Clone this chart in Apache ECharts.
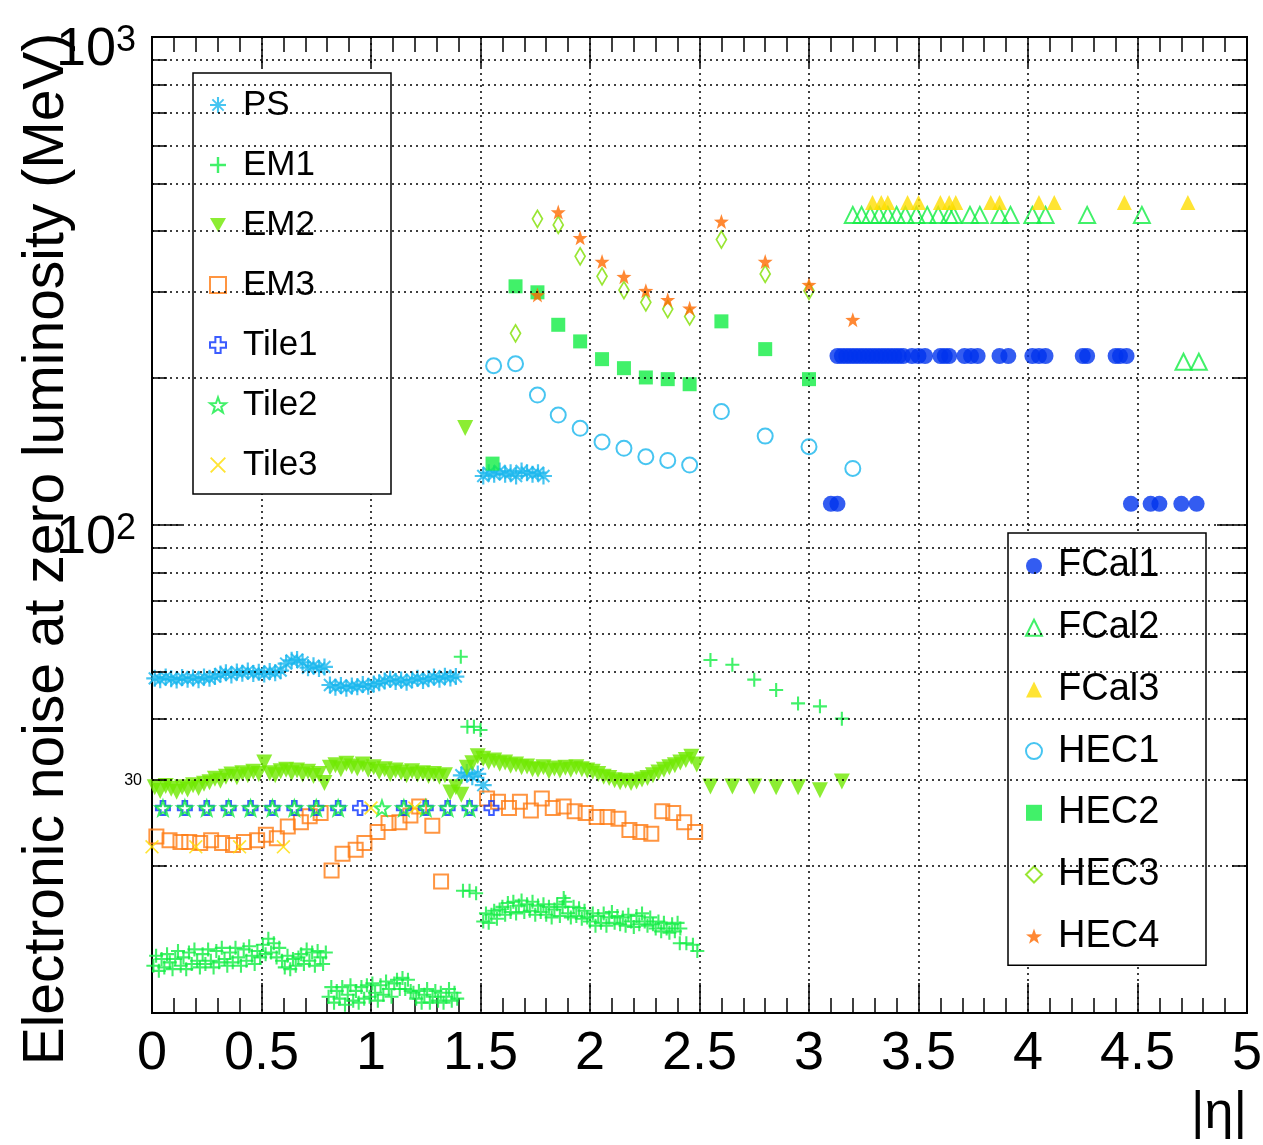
<!DOCTYPE html>
<html><head><meta charset="utf-8">
<script src="https://cdn.jsdelivr.net/npm/echarts@6/dist/echarts.min.js"></script>
<style>html,body{margin:0;padding:0;background:#fff}#c{width:1263px;height:1145px}</style>
</head><body><div id="c"></div>
<script>
// ---------------- DATA ----------------
const SERIES_NAMES = ['PS','EM1','EM2','EM3','Tile1','Tile2','Tile3','FCal1','FCal2','FCal3','HEC1','HEC2','HEC3','HEC4'];
const X_TICK_LABELS = ['0','0.5','1','1.5','2','2.5','3','3.5','4','4.5','5'];
const Y_MINOR_TICKS = [20,30,40,50,60,70,80,90,200,300,400,500,600,700,800,900];
const Y_MAJOR_TICKS = [100];

// PS
const psBarrelStart = 0.0125, psStep = 0.025;
const psBarrel = [48.5,48.2,48.8,48.4,48.1,48.7,48.3,48.6,48.2,48.8,48.5,48.9,
  49.5,49.8,49.3,50.0,49.7,50.2,49.6,49.9,49.5,50.1,49.8,50.3,
  52.0,52.8,53.0,52.3,51.0,51.5,50.8,51.2,
  47.0,46.5,46.9,46.3,46.8,46.6,47.1,46.7,47.2,47.5,
  47.9,48.3,47.8,48.1,47.6,48.2,48.5,48.0,48.4,48.8,48.3,49.0,48.6,48.9];
const psTransEta = [1.4125,1.4375,1.4625,1.4875,1.5125];
const psTransVal = [30.7,31.1,30.5,30.9,29.3];
const psEndcapStart = 1.5125;
const psEndcap = [126,128,127,129,127,128,126,129,128,127,128,126];

// EM1
const em1Step = 0.0125;
const em1BarrelAStart = 0.00625;
const em1BarrelA = [12.5,13.1,12.2,12.9,12.4,13.2,12.7,12.3,
  12.9,13.4,12.5,13.0,12.3,13.3,12.6,13.5,12.8,12.4,
  13.2,12.6,13.5,12.8,12.4,13.4,12.7,13.6,12.9,12.5,
  13.3,12.7,13.6,13.0,12.5,13.5,12.8,13.7,13.1,12.6,13.4,
  13.0,13.8,13.2,14.2,13.3,13.9,13.0,13.6,
  12.8,12.4,13.1,12.3,12.9,12.5,13.0,
  13.2,12.6,13.5,12.8,13.3,12.5,13.4,13.0,12.6,13.3];
const em1BarrelBStart = 0.80625;
const em1BarrelB = [10.8,11.3,10.5,11.1,10.7,11.3,10.4,10.9,11.4,10.6,11.1,10.5,
  11.3,10.7,11.4,10.8,11.5,11.0,10.6,11.4,10.9,11.6,11.2,10.8,11.5,11.7,11.2,
  11.8,11.2,11.7,11.1,11.0,
  10.7,11.1,10.5,10.9,11.2,10.5,10.8,11.1,10.6,11.0,10.5,10.8,11.2,10.6,11.0,10.7];
const em1EndcapStart = 1.5125;
const em1Endcap = [15.4,16.0,15.3,15.9,16.2,15.6,16.3,
  16.5,15.9,16.8,16.1,16.9,16.0,16.6,17.0,16.1,16.7,16.2,16.9,15.9,16.6,16.1,
  16.7,15.9,16.5,15.7,16.3,16.7,15.8,16.5,16.9,16.0,15.7,16.5,15.8,16.4,15.6,16.2,15.7,
  15.4,16.0,15.1,15.8,15.3,16.0,15.1,15.7,16.1,15.3,15.8,15.2,
  15.7,15.1,15.9,15.4,15.0,15.8,15.2,16.0,15.4,15.1,15.7,15.2,
  14.9,15.4,14.7,15.3,14.9,14.6,15.2,14.7,15.3,14.9];
const em1ExtraEta = [1.41,1.42,1.45,1.48,1.44,1.47,1.50,1.88,2.41,2.44,2.47,2.49,2.55,2.65,2.75,2.85,2.95,3.05,3.15];
const em1ExtraVal = [53.7,17.8,17.8,17.6,38.6,38.6,38.0,17.2,13.9,13.9,13.8,13.4,52.9,51.7,48.2,45.9,43.1,42.5,40.1];

// EM2
const em2Step = 0.025;
const em2BarrelStart = 0.0125;
const em2Barrel = [29.0,28.5,29.2,28.8,28.4,29.0,28.7,29.3,28.9,29.5,
  29.7,30.2,29.9,30.5,30.8,30.4,31.0,30.7,31.2,30.9,
  32.6,
  31.0,30.7,31.3,31.5,31.0,31.4,30.8,31.2,30.6,30.9,
  29.6,
  31.8,32.2,31.6,32.4,32.0,31.7,32.3,31.5,31.9,
  31.2,31.6,30.9,31.4,31.1,30.7,31.3,30.8,31.0,30.6,30.9,
  30.5,30.7,28.3,29.0];
const em2EndcapStart = 1.4125;
const em2Endcap = [28.0,31.8,32.5,33.6,33.2,
  32.7,32.9,32.4,32.6,32.1,32.3,31.9,32.0,31.6,
  31.5,31.9,31.3,31.7,31.4,31.8,31.5,31.9,31.6,31.4,
  31.2,30.9,30.5,30.3,
  30.0,29.7,29.9,29.6,29.8,30.1,30.3,
  30.7,31.1,31.5,31.9,32.2,32.6,33.0,33.5,32.3];
const em2ExtraEta = [1.43,2.55,2.65,2.75,2.85,2.95,3.05,3.15];
const em2ExtraVal = [158,29.1,29.1,29.1,29.0,29.0,28.6,29.8];

// EM3
const em3Eta = [0.02,0.08,0.13,0.17,0.22,0.27,0.32,0.37,0.42,0.48,0.52,0.57,0.62,0.68,0.72,0.77,
  0.82,0.87,0.93,0.97,1.03,1.08,1.13,1.18,1.22,1.28,1.32,
  1.53,1.58,1.63,1.68,1.73,1.78,1.83,1.88,1.93,1.98,2.03,2.08,2.13,2.18,2.23,2.28,2.33,2.38,2.43,2.48];
const em3Val = [23.0,22.6,22.4,22.4,22.3,22.6,22.3,22.1,22.4,22.6,23.2,22.8,24.1,24.6,25.3,25.7,
  19.6,21.2,21.6,22.3,23.5,24.5,24.6,25.4,26.5,24.2,18.6,
  27.5,27.1,26.3,27.1,26.0,27.5,26.3,26.5,25.9,25.7,25.2,25.2,25.0,23.7,23.5,23.3,25.9,25.7,24.6,23.5];

// Tile
const tile1Eta = [0.05,0.15,0.25,0.35,0.45,0.55,0.65,0.75,0.85,0.95,1.15,1.25,1.35,1.45,1.55];
const tile1Val = [26.3,26.3,26.3,26.3,26.3,26.3,26.3,26.3,26.3,26.3,26.3,26.3,26.3,26.3,26.3];
const tile2Eta = [0.05,0.15,0.25,0.35,0.45,0.55,0.65,0.75,0.85,1.05,1.15,1.25,1.35,1.45];
const tile2Val = [26.3,26.3,26.3,26.3,26.3,26.3,26.3,26.3,26.3,26.3,26.3,26.3,26.3,26.3];
const tile3Eta = [0.0,0.2,0.4,0.6,1.0,1.2];
const tile3Val = [21.9,21.9,21.9,21.9,26.3,26.3];

// FCal
const fcal1Eta = [3.13,3.15,3.17,3.19,3.21,3.23,3.25,3.27,3.29,3.31,3.33,3.35,3.37,3.39,3.41,3.43,3.47,3.50,3.53,
  3.60,3.62,3.64,3.71,3.74,3.77,3.87,3.91,4.02,4.05,4.08,4.25,4.27,4.40,4.42,4.45,
  3.10,3.13,4.47,4.56,4.60,4.70,4.77];
const fcal1Val = [222,222,222,222,222,222,222,222,222,222,222,222,222,222,222,222,222,222,222,
  222,222,222,222,222,222,222,222,222,222,222,222,222,222,222,222,
  110.5,110.5,110.5,110.5,110.5,110.5,110.5];
const fcal2Eta = [3.20,3.24,3.28,3.32,3.36,3.40,3.44,3.49,3.54,3.59,3.64,3.66,3.735,3.78,3.87,3.92,4.02,4.08,4.27,4.52,4.71,4.78];
const fcal2Val = [432,432,432,432,432,432,432,432,432,432,432,432,432,432,432,432,432,432,432,432,216,216];
const fcal3Eta = [3.29,3.33,3.36,3.45,3.50,3.60,3.64,3.67,3.83,3.87,4.05,4.12,4.44,4.73];
const fcal3Val = [458,458,458,458,458,458,458,458,458,458,458,458,458,458];

// HEC
const hec1Eta = [1.56,1.66,1.76,1.855,1.955,2.055,2.155,2.255,2.355,2.455,2.6,2.8,3.0,3.2];
const hec1Val = [212,214,184.6,168,157.8,148,143.6,138,135.6,132.7,170.8,152.1,144.7,130.6];
const hec2Eta = [1.555,1.66,1.76,1.855,1.955,2.055,2.155,2.255,2.355,2.455,2.6,2.8,3.0];
const hec2Val = [133.6,308.4,299.8,257.2,237.8,218.7,209.6,200.6,199,194.3,261.4,229.3,199];
const hec3Eta = [1.66,1.76,1.855,1.955,2.055,2.155,2.255,2.355,2.455,2.6,2.8,3.0];
const hec3Val = [247,424,412,355.3,323.3,303,285.9,277,267.6,384.5,327,302];
const hec4Eta = [1.76,1.855,1.955,2.055,2.155,2.255,2.355,2.455,2.6,2.8,3.0,3.2];
const hec4Val = [296,437.7,387.6,346.6,322.7,302,289.4,278,418.7,346.6,310.8,263.4];

// ---------------- HELPERS ----------------
function reg(start, step, vals) { return vals.map((v, i) => [+(start + i * step).toFixed(5), v]); }
function pairs(etas, vals) { return etas.map((e, i) => [e, vals[i]]); }

const FONT = '"Liberation Sans", Arial, Helvetica, sans-serif';
const P_PLUS = 'path://M-10,-1.5 L10,-1.5 L10,1.5 L-10,1.5 Z M-1.5,-10 L1.5,-10 L1.5,10 L-1.5,10 Z';
const P_AST = 'path://M-10,-1.3 L10,-1.3 L10,1.3 L-10,1.3 Z M-1.3,-10 L1.3,-10 L1.3,10 L-1.3,10 Z M-6.15,-7.85 L7.85,6.15 L6.15,7.85 L-7.85,-6.15 Z M-7.85,6.15 L6.15,-7.85 L7.85,-6.15 L-6.15,7.85 Z';
const P_X = 'path://M-6.8,-8.2 L8.2,6.8 L6.8,8.2 L-8.2,-6.8 Z M-8.2,6.8 L6.8,-8.2 L8.2,-6.8 L-6.8,8.2 Z';
const P_OCROSS = 'path://M-3.3,-10 L3.3,-10 L3.3,-3.3 L10,-3.3 L10,3.3 L3.3,3.3 L3.3,10 L-3.3,10 L-3.3,3.3 L-10,3.3 L-10,-3.3 L-3.3,-3.3 Z';
const P_STAR = 'path://M0,-10 L2.351,-3.236 L9.511,-3.09 L3.804,1.236 L5.878,8.09 L0,4 L-5.878,8.09 L-3.804,1.236 L-9.511,-3.09 L-2.351,-3.236 Z';
const P_DTRI = 'path://M-10,-8.66 L10,-8.66 L0,8.66 Z';

function sc(name, data, symbol, size, color, open, bw) {
  return {
    id: name, name, type: 'scatter', data, symbol, symbolSize: size, z: 3,
    itemStyle: open ? { color: 'rgba(0,0,0,0)', borderColor: color, borderWidth: bw || 2 }
                    : { color: color, borderWidth: 0 },
    emphasis: { disabled: true }, animation: false
  };
}

const series = [
  sc('PS', [].concat(reg(psBarrelStart, psStep, psBarrel), pairs(psTransEta, psTransVal), reg(psEndcapStart, psStep, psEndcap)), P_AST, 17, '#19b6ee'),
  sc('EM1', [].concat(reg(em1BarrelAStart, em1Step, em1BarrelA), reg(em1BarrelBStart, em1Step, em1BarrelB), reg(em1EndcapStart, em1Step, em1Endcap), pairs(em1ExtraEta, em1ExtraVal)), P_PLUS, 14, '#11ee44'),
  sc('EM2', [].concat(reg(em2BarrelStart, em2Step, em2Barrel), reg(em2EndcapStart, em2Step, em2Endcap), pairs(em2ExtraEta, em2ExtraVal)), P_DTRI, 16, '#6fe800'),
  sc('EM3', pairs(em3Eta, em3Val), 'rect', 14, '#ff7a12', true, 2),
  sc('Tile1', pairs(tile1Eta, tile1Val), P_OCROSS, 14, '#0a33ff', true, 2),
  sc('Tile2', pairs(tile2Eta, tile2Val), P_STAR, 15, '#11ee44', true, 2),
  sc('Tile3', pairs(tile3Eta, tile3Val), P_X, 14, '#ffdd00'),
  sc('FCal1', pairs(fcal1Eta, fcal1Val), 'circle', 16, '#0033ee'),
  sc('FCal2', pairs(fcal2Eta, fcal2Val), 'triangle', 16, '#11ee44', true, 2),
  sc('FCal3', pairs(fcal3Eta, fcal3Val), 'triangle', 15, '#ffdd00'),
  sc('HEC1', pairs(hec1Eta, hec1Val), 'circle', 15, '#19b6ee', true, 2),
  sc('HEC2', pairs(hec2Eta, hec2Val), 'rect', 14, '#11ee44'),
  sc('HEC3', pairs(hec3Eta, hec3Val), 'diamond', [10, 17], '#7fe000', true, 1.8),
  sc('HEC4', pairs(hec4Eta, hec4Val), P_STAR, 15, '#ff6a00')
];

const dotted = { color: '#000', width: 1.5, type: [2, 4] };
const tickStyle = { color: '#000', width: 1.5 };

const chart = echarts.init(document.getElementById('c'), null, { renderer: 'canvas' });

function legendCfg(names, left, top, fs, lh, gap, pad, txtPadL) {
  return {
    data: names, orient: 'vertical', left, top, padding: pad, itemGap: gap,
    itemWidth: 16, itemHeight: 16, borderColor: '#000', borderWidth: 1.5,
    backgroundColor: '#fff', selectedMode: false,
    textStyle: { fontSize: fs, lineHeight: lh, color: '#000', fontFamily: FONT, width: 120, padding: [0, 0, 0, txtPadL] }
  };
}

const option = {
  animation: false,
  backgroundColor: '#fff',
  grid: { left: 152, right: 16, top: 37, bottom: 132, show: true, borderColor: '#000', borderWidth: 2, outerBoundsMode: 'none', containLabel: false },
  legend: [
    legendCfg(SERIES_NAMES.slice(0, 7), 193, 73, 35, 36, 24, [14, 28, 11, 16], 12),
    legendCfg(SERIES_NAMES.slice(7), 1008, 533, 38, 40, 21.7, [13, 28, 9, 17], 11)
  ],
  xAxis: [
    { type: 'value', min: 0, max: 5, interval: 0.5, position: 'bottom',
      axisLine: { show: true, onZero: false, lineStyle: { color: '#000', width: 2 } },
      axisTick: { show: true, inside: true, length: 30, lineStyle: tickStyle },
      minorTick: { show: true, splitNumber: 5, length: 15, lineStyle: tickStyle },
      splitLine: { show: true, lineStyle: dotted },
      axisLabel: { fontSize: 54, color: '#000', fontFamily: FONT, margin: 14,
        formatter: v => X_TICK_LABELS[Math.round(v * 2)] } },
    { type: 'value', min: 0, max: 5, interval: 0.5, position: 'top',
      axisLine: { show: true, onZero: false, lineStyle: { color: '#000', width: 2 } },
      axisTick: { show: true, inside: true, length: 30, lineStyle: tickStyle },
      minorTick: { show: true, splitNumber: 5, length: 15, lineStyle: tickStyle },
      splitLine: { show: false }, axisLabel: { show: false } }
  ],
  yAxis: [
    { type: 'log', logBase: 10, min: 10, max: 1000, position: 'left',
      axisLine: { show: true, onZero: false, lineStyle: { color: '#000', width: 2 } },
      axisTick: { show: false },
      splitLine: { show: true, lineStyle: dotted },
      minorTick: { show: false }, minorSplitLine: { show: false },
      axisLabel: { margin: 16, color: '#000', fontFamily: FONT, padding: [26, 0, 0, 0],
        formatter: v => { const e = Math.round(Math.log10(v)); return e >= 2 ? '{a|10}{b|' + e + '}' : ''; },
        rich: { a: { fontSize: 54, lineHeight: 54, fontFamily: FONT, color: '#000', padding: [11, 0, 0, 0], verticalAlign: 'bottom' },
                b: { fontSize: 36, lineHeight: 36, fontFamily: FONT, color: '#000', verticalAlign: 'top' } } },
      name: 'Electronic noise at zero luminosity (MeV)', nameLocation: 'middle', nameRotate: 90, nameGap: 76,
      nameMoveOverlap: false,
      nameTextStyle: { fontSize: 57, color: '#000', fontFamily: FONT, padding: [0, 48, 0, 0] } }
  ],
  series: [
    { id: '_grid', name: '_grid', type: 'scatter', data: [], z: 1, silent: true,
      markLine: { silent: true, symbol: 'none', animation: false, label: { show: false },
                  lineStyle: dotted, data: Y_MINOR_TICKS.map(v => ({ yAxis: v })) } },
    { id: '_ticks', name: '_ticks', type: 'scatter', data: [], z: 4, silent: true,
      markLine: { silent: true, symbol: 'none', animation: false, label: { show: false },
                  lineStyle: { color: '#000', width: 1.5, type: 'solid' }, data: [] } }
  ].concat(series)
};
chart.setOption(option);

// log-axis ticks (left and right), the small "30" label, and the |eta| axis title
const x0 = chart.convertToPixel({ xAxisIndex: 0 }, 0);
const x1 = chart.convertToPixel({ xAxisIndex: 0 }, 5);
const tickSegs = [];
function addTick(v, len) {
  const py = chart.convertToPixel({ yAxisIndex: 0 }, v);
  tickSegs.push([{ x: x0, y: py }, { x: x0 + len, y: py }]);
  tickSegs.push([{ x: x1 - len, y: py }, { x: x1, y: py }]);
}
Y_MINOR_TICKS.forEach(v => addTick(v, 15));
Y_MAJOR_TICKS.forEach(v => addTick(v, 30));
const y30 = chart.convertToPixel({ yAxisIndex: 0 }, 30);
chart.setOption({
  series: [{ id: '_ticks', markLine: { data: tickSegs } }],
  graphic: [
    { type: 'text', x: x0 - 10, y: y30, style: { text: '30', fontSize: 16, fontFamily: FONT, fill: '#000', align: 'right', verticalAlign: 'middle' } },
    { type: 'text', right: 16, top: 1088, style: { text: '|η|', fontSize: 52, fontFamily: FONT, fill: '#000' } }
  ]
});
</script></body></html>
